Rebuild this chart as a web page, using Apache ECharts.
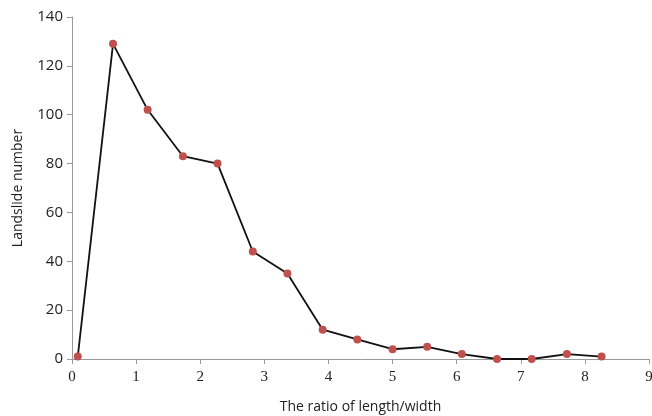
<!DOCTYPE html>
<html><head><meta charset="utf-8">
<script src="https://cdn.jsdelivr.net/npm/echarts@6/dist/echarts.min.js"></script>
<style>html,body{margin:0;padding:0;background:#fff}#c{width:652px;height:416px}</style>
</head><body><div id="c"></div>
<script>
const ratioX = [0.09, 0.64, 1.18, 1.73, 2.27, 2.82, 3.36, 3.91, 4.45, 5.0, 5.54, 6.08, 6.63, 7.17, 7.72, 8.26];
const landslides = [1, 129, 102, 83, 80, 44, 35, 12, 8, 4, 5, 2, 0, 0, 2, 1];
const xTicks = [0,1,2,3,4,5,6,7,8,9];
const yTicks = [0,20,40,60,80,100,120,140];

const chart = echarts.init(document.getElementById('c'));
chart.setOption({
  animation: false,
  grid: {left: 72, right: 3, top: 17, bottom: 57, outerBoundsMode: 'none', containLabel: false},
  xAxis: {
    type: 'value', min: 0, max: 9, interval: 1,
    name: 'The ratio of length/width', nameLocation: 'middle', nameGap: 41,
    nameTextStyle: {fontFamily: 'Open Sans', fontSize: 14, color: '#222'},
    axisLine: {lineStyle: {color: '#999'}},
    axisTick: {show: true, length: 5, lineStyle: {color: '#999'}},
    axisLabel: {fontFamily: 'Liberation Serif', fontSize: 15, color: '#222', margin: 11},
    splitLine: {show: false}
  },
  yAxis: {
    type: 'value', min: 0, max: 140, interval: 20,
    name: 'Landslide number', nameLocation: 'middle', nameGap: 47,
    nameTextStyle: {fontFamily: 'Open Sans', fontSize: 14, color: '#222'},
    axisLine: {show: true, lineStyle: {color: '#999'}},
    axisTick: {show: true, length: 5, lineStyle: {color: '#999'}},
    axisLabel: {fontFamily: 'Open Sans', fontSize: 15, color: '#222', margin: 9},
    splitLine: {show: false}
  },
  series: [{
    type: 'line',
    data: ratioX.map((x, i) => [x, landslides[i]]),
    symbol: 'circle', symbolSize: 8,
    itemStyle: {color: '#C0504D'},
    lineStyle: {color: '#111', width: 1.8}
  }]
});
</script></body></html>
